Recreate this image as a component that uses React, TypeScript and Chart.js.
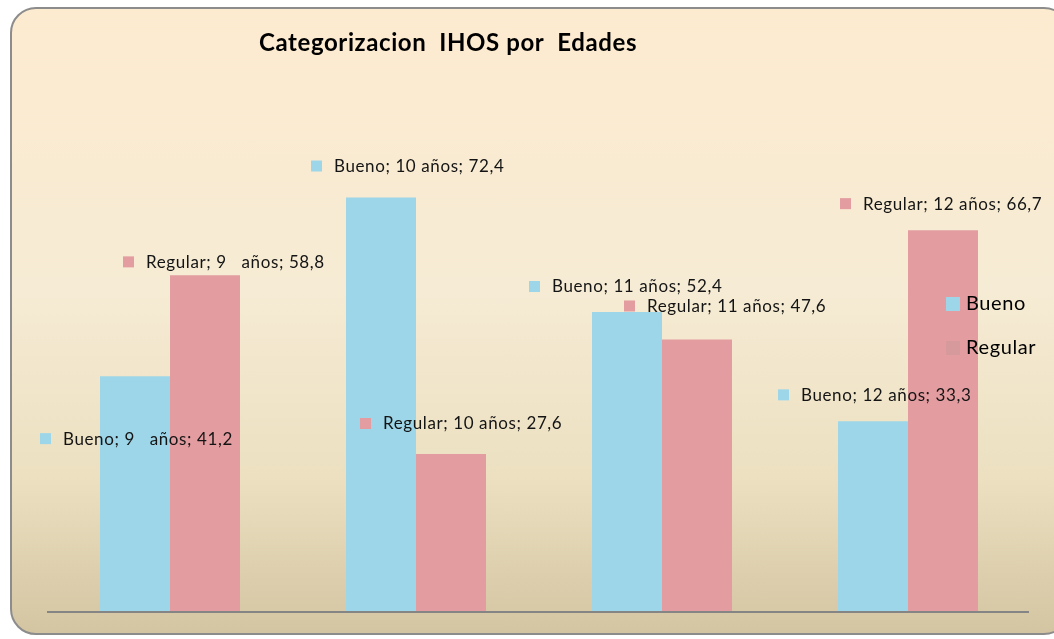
import React, { useEffect, useRef } from "react";
import { Chart, registerables } from "chart.js";

Chart.register(...registerables);

const chartTitle = "Categorizacion  IHOS por  Edades";
const categories = ["9   años", "10 años", "11 años", "12 años"];
const seriesNames = ["Bueno", "Regular"];
const buenoValues = [41.2, 72.4, 52.4, 33.3];
const regularValues = [58.8, 27.6, 47.6, 66.7];
const seriesColors = ["#9dd6e8", "#e39c9f"];
const legendSquareColors = ["#9dd6e8", "#d79a9c"];
// label anchor offsets (px) relative to each bar's centre-x / top-y
const labelOffsets = [
  [[-95, 63], [-70, -31], [-98, -25], [-95, -26]],
  [[-82, -13], [-91, -30], [-73, -33], [-103, -26]],
];

const FONT = "Lato, 'Noto Sans', sans-serif";

const fmt = (v: number) => v.toFixed(1).replace(".", ",");

const overlayPlugin = {
  id: "overlay",
  afterDatasetsDraw(chart: any) {
    const ctx = chart.ctx as any;
    const area = chart.chartArea;
    ctx.save();
    // axis line
    ctx.strokeStyle = "#858585";
    ctx.lineWidth = 2;
    ctx.beginPath();
    ctx.moveTo(area.left, area.bottom);
    ctx.lineTo(area.right - 2, area.bottom);
    ctx.stroke();

    // data labels
    ctx.font = `17px ${FONT}`;
    ctx.letterSpacing = "0.6px";
    ctx.textBaseline = "middle";
    ctx.textAlign = "left";
    chart.data.datasets.forEach((ds: any, di: number) => {
      const meta = chart.getDatasetMeta(di);
      meta.data.forEach((bar: any, i: number) => {
        const [dx, dy] = labelOffsets[di][i];
        const x = bar.x + dx;
        const y = bar.y + dy;
        ctx.fillStyle = seriesColors[di];
        ctx.fillRect(x, y - 6, 11, 11);
        ctx.fillStyle = "#141414";
        ctx.fillText(`${ds.label}; ${categories[i]}; ${fmt(ds.data[i])}`, x + 23, y);
      });
    });

    // title
    ctx.font = `bold 24px ${FONT}`;
    ctx.letterSpacing = "0.6px";
    ctx.textAlign = "center";
    ctx.fillStyle = "#000";
    ctx.fillText(chartTitle, 448, 43);

    // legend
    ctx.font = `20px ${FONT}`;
    ctx.letterSpacing = "0.6px";
    ctx.textAlign = "left";
    seriesNames.forEach((name, i) => {
      const y = 304 + i * 44;
      ctx.fillStyle = legendSquareColors[i];
      ctx.fillRect(946, y - 7, 14, 14);
      ctx.fillStyle = "#000";
      ctx.fillText(name, 966, y);
    });
    ctx.restore();
  },
};

export default function App() {
  const ref = useRef<HTMLCanvasElement | null>(null);
  useEffect(() => {
    if (!ref.current) return;
    const chart = new Chart(ref.current, {
      type: "bar",
      data: {
        labels: categories,
        datasets: [
          { label: seriesNames[0], data: buenoValues, backgroundColor: seriesColors[0] },
          { label: seriesNames[1], data: regularValues, backgroundColor: seriesColors[1] },
        ],
      },
      options: {
        responsive: false,
        animation: false,
        devicePixelRatio: 1,
        datasets: { bar: { barPercentage: 1, categoryPercentage: 140 / 246 } },
        layout: { padding: { left: 47, right: 23, top: 154, bottom: 27 } },
        scales: {
          x: { display: false },
          y: { display: false, min: 0, max: 80 },
        },
        plugins: {
          legend: { display: false },
          title: { display: false },
          tooltip: { enabled: false },
        },
      },
      plugins: [overlayPlugin],
    });
    return () => chart.destroy();
  }, []);

  return (
    <div style={{ position: "absolute", left: 0, top: 0, width: 1054, height: 639, overflow: "hidden" }}>
      <div
        style={{
          position: "absolute",
          left: 10,
          top: 7,
          width: 1060,
          height: 628,
          boxSizing: "border-box",
          border: "2px solid #8c8c8c",
          borderRadius: 26,
          background: "linear-gradient(to bottom, #fdebd0 0%, #f6ebd4 45%, #ece0c1 75%, #d4c5a2 100%)",
        }}
      />
      <canvas
        ref={ref}
        width={1054}
        height={639}
        style={{ position: "absolute", left: 0, top: 0, width: 1054, height: 639 }}
      />
    </div>
  );
}
